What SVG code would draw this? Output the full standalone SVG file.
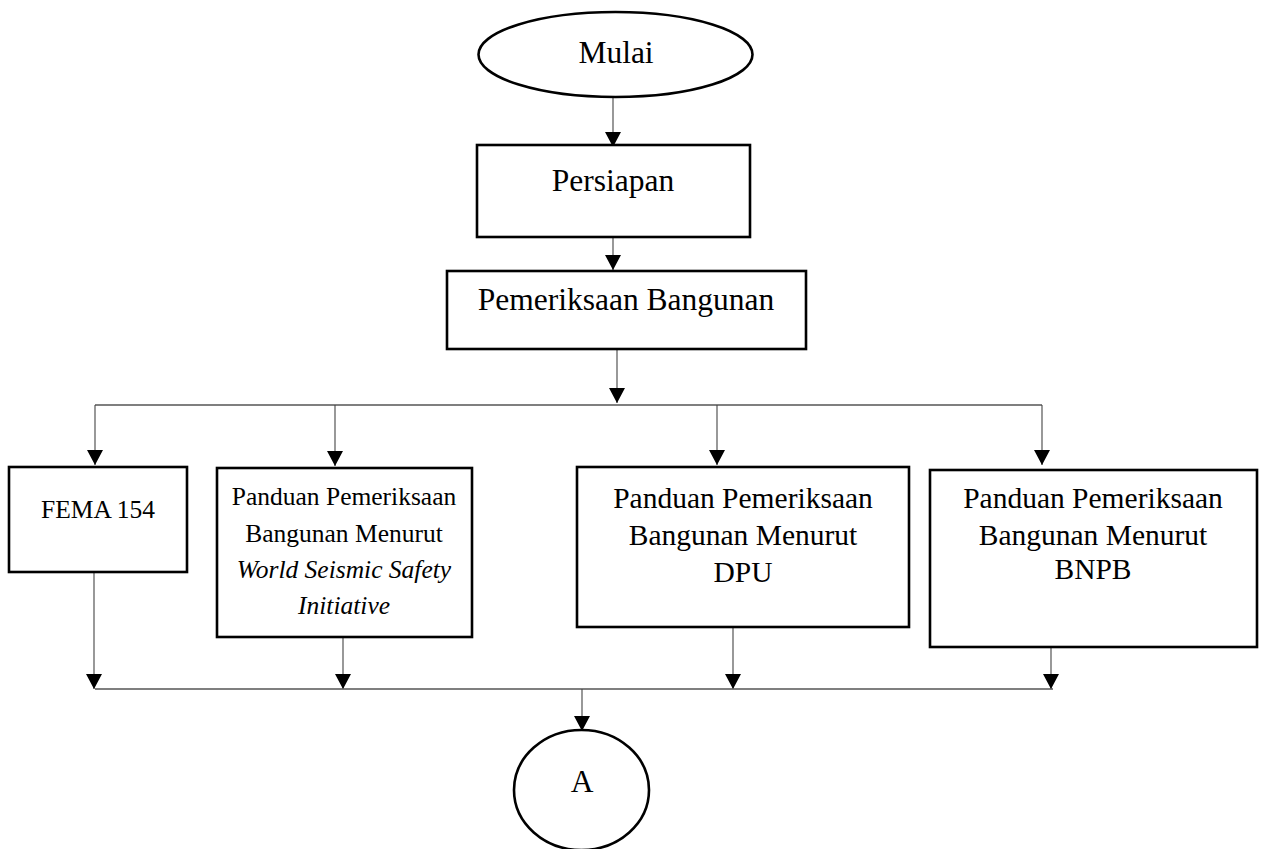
<svg xmlns="http://www.w3.org/2000/svg" width="1263" height="849" viewBox="0 0 1263 849">
<style>
.shape{fill:#fff;stroke:#000;stroke-width:2.6}
.t{font-family:"Liberation Serif","Times New Roman",serif;fill:#000;text-anchor:middle}
.big{font-size:31.5px}
.mid{font-size:29.5px}
.sm{font-size:25.5px}
.it{font-style:italic}
.c{fill:none;stroke:#444;stroke-width:1.1}
.h{fill:none;stroke:#555;stroke-width:1.6}
</style>
<defs>
<marker id="ah" markerUnits="userSpaceOnUse" markerWidth="16" markerHeight="16" refX="15" refY="8" orient="auto">
<path d="M0,0 L15,8 L0,16 z" fill="#000"/>
</marker>
</defs>
<rect width="1263" height="849" fill="#fff"/>
<g id="connectors">
<line class="c" x1="613" y1="97" x2="613" y2="147" marker-end="url(#ah)"/>
<line class="c" x1="613" y1="237" x2="613" y2="270" marker-end="url(#ah)"/>
<line class="c" x1="617" y1="349" x2="617" y2="403" marker-end="url(#ah)"/>
<line class="h" x1="95" y1="405" x2="1042" y2="405"/>
<line class="c" x1="95" y1="405" x2="95" y2="465" marker-end="url(#ah)"/>
<line class="c" x1="335" y1="405" x2="335" y2="466" marker-end="url(#ah)"/>
<line class="c" x1="717" y1="405" x2="717" y2="465" marker-end="url(#ah)"/>
<line class="c" x1="1042" y1="405" x2="1042" y2="465" marker-end="url(#ah)"/>
<line class="c" x1="94" y1="572" x2="94" y2="689" marker-end="url(#ah)"/>
<line class="c" x1="343" y1="637" x2="343" y2="689" marker-end="url(#ah)"/>
<line class="c" x1="733" y1="627" x2="733" y2="689" marker-end="url(#ah)"/>
<line class="c" x1="1051" y1="647" x2="1051" y2="689" marker-end="url(#ah)"/>
<line class="h" x1="95" y1="689" x2="1053" y2="689"/>
<line class="c" x1="582" y1="689" x2="582" y2="731" marker-end="url(#ah)"/>
</g>
<g id="mulai">
<ellipse class="shape" cx="615.5" cy="54.5" rx="137" ry="42.5"/>
<text class="t big" x="616" y="63">Mulai</text>
</g>
<g id="persiapan">
<rect class="shape" x="477" y="145" width="273" height="92"/>
<text class="t big" x="613" y="191">Persiapan</text>
</g>
<g id="pemeriksaan">
<rect class="shape" x="447" y="271" width="359" height="78"/>
<text class="t big" x="626" y="310">Pemeriksaan Bangunan</text>
</g>
<g id="fema">
<rect class="shape" x="9" y="467" width="178" height="105"/>
<text class="t sm" x="98" y="518">FEMA 154</text>
</g>
<g id="wssi">
<rect class="shape" x="217" y="468" width="255" height="169"/>
<text class="t sm" x="344" y="505">Panduan Pemeriksaan</text>
<text class="t sm" x="344" y="542">Bangunan Menurut</text>
<text class="t sm it" x="344" y="578">World Seismic Safety</text>
<text class="t sm it" x="344" y="614">Initiative</text>
</g>
<g id="dpu">
<rect class="shape" x="577" y="467" width="332" height="160"/>
<text class="t mid" x="743" y="508">Panduan Pemeriksaan</text>
<text class="t mid" x="743" y="545">Bangunan Menurut</text>
<text class="t mid" x="743" y="582">DPU</text>
</g>
<g id="bnpb">
<rect class="shape" x="930" y="470" width="327" height="177"/>
<text class="t mid" x="1093" y="508">Panduan Pemeriksaan</text>
<text class="t mid" x="1093" y="545">Bangunan Menurut</text>
<text class="t mid" x="1093" y="579">BNPB</text>
</g>
<g id="a">
<ellipse class="shape" cx="581.5" cy="790" rx="67.5" ry="60"/>
<text class="t big" x="582" y="792">A</text>
</g>
</svg>
